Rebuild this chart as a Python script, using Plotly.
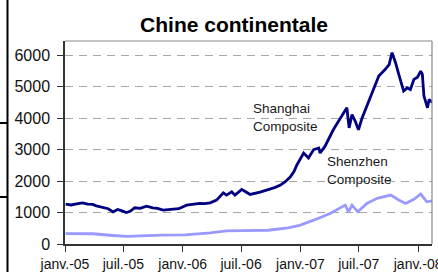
import plotly.graph_objects as go

# ---------------- data ----------------
shanghai_dates = [
    "2005-01-03", "2005-01-20", "2005-02-10", "2005-02-25", "2005-03-12", "2005-03-28",
    "2005-04-08", "2005-04-28", "2005-05-15", "2005-05-30", "2005-06-13", "2005-06-25",
    "2005-07-10", "2005-07-22", "2005-08-05", "2005-08-22", "2005-09-11", "2005-09-30",
    "2005-10-15", "2005-11-01", "2005-11-15", "2005-12-02", "2005-12-20", "2006-01-13",
    "2006-02-05", "2006-02-23", "2006-03-10", "2006-03-27", "2006-04-16", "2006-05-07",
    "2006-05-17", "2006-06-02", "2006-06-12", "2006-07-03", "2006-07-15", "2006-07-29",
    "2006-08-29", "2006-09-29", "2006-10-15", "2006-10-31", "2006-11-15", "2006-12-01",
    "2006-12-12", "2006-12-21", "2007-01-01", "2007-01-11", "2007-01-26", "2007-02-11",
    "2007-02-27", "2007-03-03", "2007-03-18", "2007-04-01", "2007-04-13", "2007-04-29",
    "2007-05-12", "2007-05-25", "2007-06-01", "2007-06-10", "2007-06-20", "2007-06-30",
    "2007-07-11", "2007-07-26", "2007-08-06", "2007-08-16", "2007-09-01", "2007-09-21",
    "2007-10-03", "2007-10-12", "2007-10-23", "2007-11-02", "2007-11-10", "2007-11-17",
    "2007-11-28", "2007-12-08", "2007-12-19", "2007-12-30", "2008-01-09", "2008-01-14",
    "2008-01-19", "2008-01-24", "2008-01-30", "2008-02-04", "2008-02-14",
]
shanghai_values = [
    1266, 1240, 1285, 1308, 1270, 1257,
    1212, 1150, 1120, 1020, 1097, 1060,
    1000, 1040, 1150, 1130, 1203, 1150,
    1130, 1075, 1090, 1097, 1120, 1235,
    1260, 1290, 1280, 1308, 1394, 1627,
    1553, 1659, 1553, 1735, 1660, 1576,
    1649, 1745, 1800, 1872, 1980, 2137,
    2300, 2510, 2700, 2890, 2730, 3000,
    3050, 2890, 3100, 3400, 3630, 3900,
    4100, 4330, 3690, 4110, 3900, 3630,
    4000, 4380, 4650, 4910, 5340, 5550,
    5700, 6080, 5760, 5390, 5100, 4860,
    4960, 4910, 5230, 5300, 5490, 5400,
    4700, 4500, 4330, 4590, 4500,
]

shenzhen_dates = [
    "2005-01-03", "2005-03-28", "2005-05-30", "2005-07-13", "2005-10-25", "2006-01-08",
    "2006-03-27", "2006-05-17", "2006-07-08", "2006-09-23", "2006-11-24", "2007-01-01",
    "2007-01-21", "2007-02-11", "2007-04-03", "2007-05-20", "2007-05-30", "2007-06-10",
    "2007-06-28", "2007-07-26", "2007-08-27", "2007-10-08", "2007-11-02", "2007-11-23",
    "2007-12-19", "2008-01-09", "2008-01-28", "2008-02-14",
]
shenzhen_values = [
    330, 325, 270, 240, 285, 290,
    350, 415, 428, 437, 511, 600,
    680, 757, 971, 1236, 1022, 1236,
    1022, 1290, 1450, 1556, 1396, 1290,
    1418, 1588, 1342, 1374,
]

tick_dates = ["2005-01-01", "2005-07-01", "2006-01-01", "2006-07-01",
              "2007-01-01", "2007-07-01", "2008-01-01"]
tick_labels = ["janv.-05", "juil.-05", "janv.-06", "juil.-06",
               "janv.-07", "juil.-07", "janv.-08"]
y_ticks = [0, 1000, 2000, 3000, 4000, 5000, 6000]

# ---------------- figure ----------------
FONT = "Liberation Sans, Arial, sans-serif"
W, H = 438, 273
ML, MR, MT, MB = 65, 6, 41, 29

fig = go.Figure()
fig.add_trace(go.Scatter(x=shenzhen_dates, y=shenzhen_values, mode="lines",
                         line=dict(color="#9999ff", width=2.8), name="Shenzhen Composite"))
fig.add_trace(go.Scatter(x=shanghai_dates, y=shanghai_values, mode="lines",
                         line=dict(color="#000080", width=2.8), name="Shanghai Composite"))

fig.update_layout(
    width=W, height=H,
    margin=dict(l=ML, r=MR, t=MT, b=MB, autoexpand=False),
    paper_bgcolor="white", plot_bgcolor="white",
    showlegend=False,
    font=dict(family=FONT, color="#111111"),
    title=dict(text="<b>Chine continentale</b>", x=234 / W, xanchor="center",
               xref="container",
               y=1 - 25 / H, yanchor="middle", yref="container",
               font=dict(size=21, family=FONT, color="#000000")),
)

fig.update_xaxes(
    type="date", range=["2005-01-01", "2008-02-13"],
    tickvals=tick_dates, ticktext=tick_labels,
    ticks="outside", ticklen=6, tickcolor="#333333", tickwidth=1,
    showline=True, linecolor="#333333", linewidth=1.5,
    showgrid=False, zeroline=False, automargin=False,
    ticklabeloverflow="allow",
    tickfont=dict(size=14, family=FONT, color="#111111"),
)
fig.update_yaxes(
    range=[0, 6450], tickvals=y_ticks,
    ticks="outside", ticklen=6, tickcolor="#333333", tickwidth=1,
    showline=True, linecolor="#333333", linewidth=1.5,
    showgrid=True, gridcolor="#a6a6a6", gridwidth=1, griddash="8px,6px",
    zeroline=False, automargin=False,
    tickfont=dict(size=16, family=FONT, color="#111111"),
    ticklabelstandoff=4,
)

# top/right frame of plot area
fig.add_shape(type="line", xref="paper", yref="paper", x0=0, x1=1, y0=1, y1=1,
              line=dict(color="#888888", width=1.2))
fig.add_shape(type="line", xref="paper", yref="paper", x0=1, x1=1, y0=0, y1=1,
              line=dict(color="#888888", width=1.2))

# series labels
fig.add_annotation(x="2006-07-31", y=4020, xref="x", yref="y", text="Shanghai<br>Composite",
                   showarrow=False, xanchor="left", yanchor="middle", align="left",
                   font=dict(size=13.5, family=FONT, color="#1a1a1a"))
fig.add_annotation(x="2007-03-19", y=2350, xref="x", yref="y", text="Shenzhen<br>Composite",
                   showarrow=False, xanchor="left", yanchor="middle", align="left",
                   font=dict(size=13.5, family=FONT, color="#1a1a1a"))

# artifact lines at the left edge of the original picture
pw, ph = W - ML - MR, H - MT - MB
def px(xpix):
    return (xpix - ML) / pw
def py(ypix):
    return (H - MB - ypix) / ph
fig.add_shape(type="line", xref="paper", yref="paper", x0=px(7.5), x1=px(7.5), y0=py(0), y1=py(272),
              line=dict(color="#000000", width=2))
fig.add_shape(type="line", xref="paper", yref="paper", x0=px(0), x1=px(7.5), y0=py(123), y1=py(123),
              line=dict(color="#000000", width=2))
fig.add_shape(type="line", xref="paper", yref="paper", x0=px(0), x1=px(7.5), y0=py(197), y1=py(197),
              line=dict(color="#000000", width=2))

fig.write_html("out.html", config={"displayModeBar": False},
               post_script="document.body.style.margin='0';document.body.style.overflow='hidden';")
